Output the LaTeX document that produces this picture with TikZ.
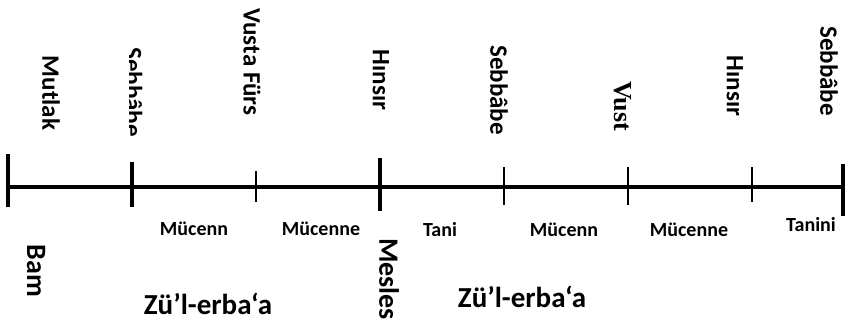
\documentclass[tikz,border=0pt]{standalone}
\usepackage{fontspec}
\setmainfont{Carlito}
\newfontfamily\timesfont{Liberation Serif}
\usetikzlibrary{positioning}
\tikzset{
    %Define style for rotated labels above the line
    toplbl/.style={
           rotate=-90,
           inner sep=0pt,
           font=\fontsize{25}{25}\selectfont\bfseries},
    %Define style for small labels below the line
    sublbl/.style={
           inner sep=0pt,
           font=\fontsize{20}{20}\selectfont\bfseries},
    %Define style for big labels
    biglbl/.style={
           inner sep=0pt,
           font=\fontsize{29}{29}\selectfont\bfseries},
    % Define tick styles
    bigtick/.style={line width=4pt},
    smalltick/.style={line width=2pt}
}

\begin{document}
\begin{tikzpicture}[x=1pt,y=-1pt]
\useasboundingbox (0,0) rectangle (846,324);
% points on the line
\coordinate (t0) at (8,187);
\coordinate (t1) at (132,187);
\coordinate (t2) at (256,187);
\coordinate (t3) at (380,187);
\coordinate (t4) at (504,187);
\coordinate (t5) at (628,187);
\coordinate (t6) at (752,187);
\coordinate (t7) at (843,187);

\draw[line width=4.5pt] (t0) -- (t7);
\draw[bigtick] ([yshift=-20pt]t0) -- ([yshift=33pt]t0);
\draw[bigtick] ([yshift=-20pt]t1) -- ([yshift=25pt]t1);
\draw[smalltick] ([yshift=-15pt]t2) -- ([yshift=16pt]t2);
\draw[bigtick] ([yshift=-24pt]t3) -- ([yshift=29pt]t3);
\foreach \t in {t4,t5}
  \draw[smalltick] ([yshift=-18pt]\t) -- ([yshift=20pt]\t);
\draw[smalltick] ([yshift=-15pt]t6) -- ([yshift=20pt]t6);
\draw[bigtick] ([yshift=-29pt]t7) -- ([yshift=23pt]t7);

% labels above
\node[toplbl](mutlak) at (51,93){Mutlak};
\begin{scope}
\clip (129,40) rectangle (150,145);
\node[toplbl](sebbabe1) at (133.5,92){Sebbâbe};
\end{scope}
\node[toplbl](vusta) at (252,62){Vusta Fürs};
\node[toplbl](hinsir1) at (381,80){Hınsır};
\node[toplbl](sebbabe2) at (499,90){Sebbâbe};
\node[toplbl, font=\fontsize{26}{26}\selectfont\timesfont\bfseries](vust) at (623,106){Vust};
\node[toplbl](hinsir2) at (735,86){Hınsır};
\node[toplbl](sebbabe3) at (829,71){Sebbâbe};

% labels below
\node[sublbl](mucenn1) at (194,229){Mücenn};
\node[sublbl](mucenne1) at (321,229){Mücenne};
\node[sublbl](tani) at (440,230){Tani};
\node[sublbl](mucenn2) at (564,230){Mücenn};
\node[sublbl](mucenne2) at (689,230){Mücenne};
\node[sublbl](tanini) at (811,225){Tanini};

\node[toplbl, font=\fontsize{28}{28}\selectfont\bfseries](bam) at (36,271){Bam};
\node[toplbl, font=\fontsize{28}{28}\selectfont\bfseries](mesles) at (389,279){Mesles};
\node[biglbl](zul1) at (208,304){Zü’l-erba‘a};
\node[biglbl](zul2) at (522,297){Zü’l-erba‘a};
\end{tikzpicture}
\end{document}
